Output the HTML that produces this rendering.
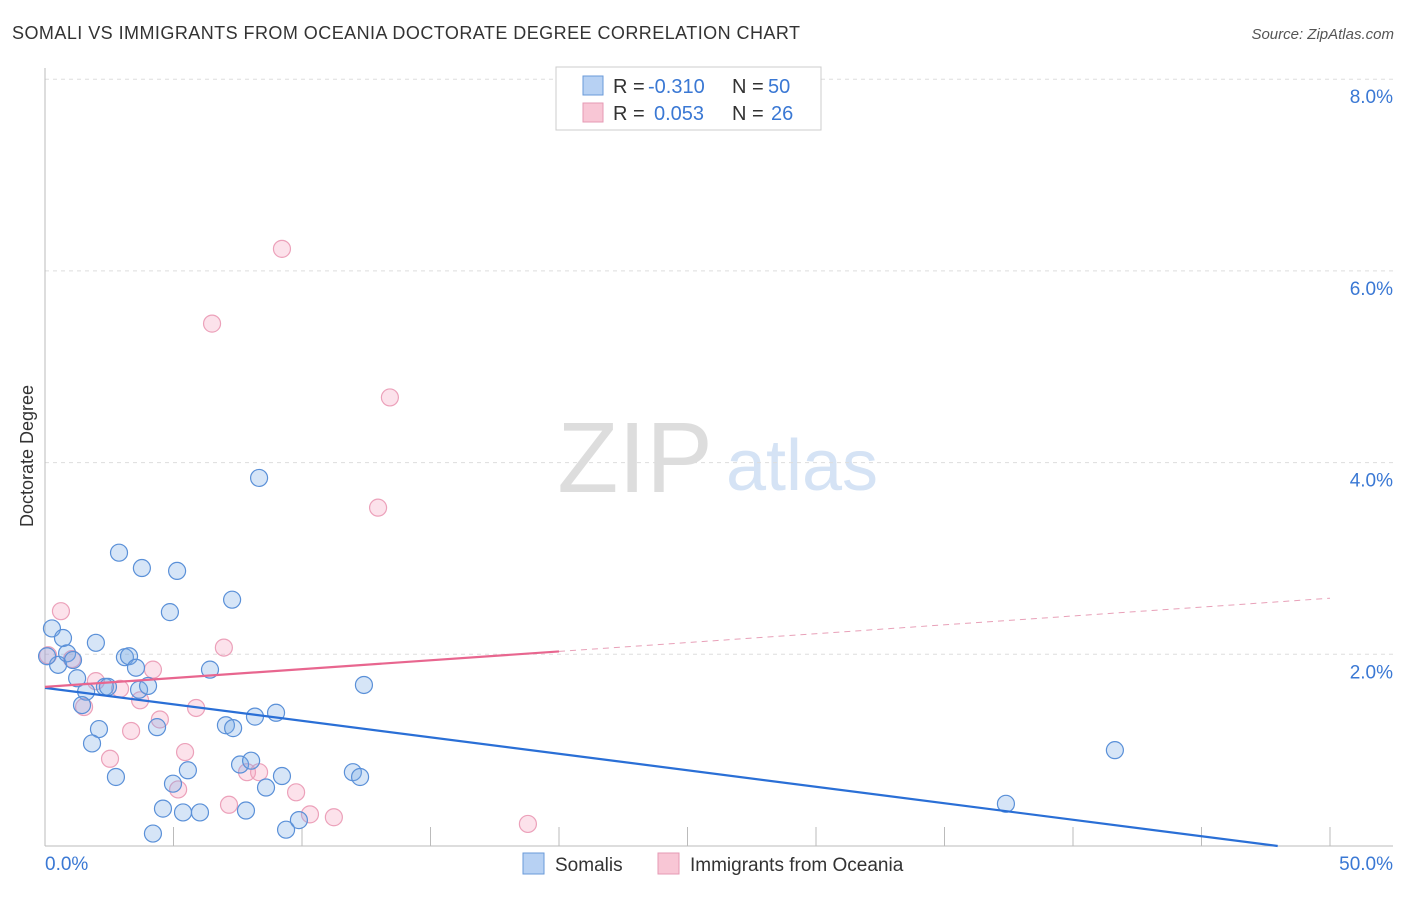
<!DOCTYPE html>
<html><head><meta charset="utf-8"><style>
body{margin:0;background:#fff;font-family:"Liberation Sans",sans-serif}
svg text{font-family:"Liberation Sans",sans-serif}
</style></head><body>
<svg id="chart" width="1406" height="892" viewBox="0 0 1406 892">
<text x="12" y="39" font-size="18" fill="#333" textLength="788">SOMALI VS IMMIGRANTS FROM OCEANIA DOCTORATE DEGREE CORRELATION CHART</text>
<text x="1394" y="39" font-size="15" fill="#555" font-style="italic" text-anchor="end">Source: ZipAtlas.com</text>
<g>
<text x="635" y="492" font-size="100" fill="#ddd" font-family="Liberation Serif" text-anchor="middle">ZIP</text>
<text x="802" y="490" font-size="72" fill="#d5e3f5" text-anchor="middle">atlas</text>
</g>
<g id="grid"></g>
<g id="axes"></g>
<g id="marks"></g>
<text transform="translate(33,456) rotate(-90)" font-size="18" fill="#333" text-anchor="middle">Doctorate Degree</text>
<g>
<rect x="556" y="67" width="265" height="63" fill="#fff" stroke="#ccc"/>
<rect x="583" y="76" width="20" height="19" fill="#b7d1f3" stroke="#6a9ad8"/>
<rect x="583" y="103" width="20" height="19" fill="#f8c6d5" stroke="#e69ab4"/>
<text x="613" y="93" font-size="20" fill="#333">R =</text>
<text x="648" y="93" font-size="20" fill="#3a78d4">-0.310</text>
<text x="732" y="93" font-size="20" fill="#333">N =</text>
<text x="768" y="93" font-size="20" fill="#3a78d4">50</text>
<text x="613" y="120" font-size="20" fill="#333">R =</text>
<text x="654" y="120" font-size="20" fill="#3a78d4">0.053</text>
<text x="732" y="120" font-size="20" fill="#333">N =</text>
<text x="771" y="120" font-size="20" fill="#3a78d4">26</text>
</g>
<g>
<rect x="523" y="853" width="21" height="21" fill="#b7d1f3" stroke="#6a9ad8"/>
<text x="555" y="871" font-size="19" fill="#333">Somalis</text>
<rect x="658" y="853" width="21" height="21" fill="#f8c6d5" stroke="#e69ab4"/>
<text x="690" y="871" font-size="19" fill="#333">Immigrants from Oceania</text>
</g>
</svg>
<script>
const yTicks=[2,4,6,8];
const yTickLabels=["2.0%","4.0%","6.0%","8.0%"];
const xTickLabels=["0.0%","50.0%"];
const somaliX=[0.27,0.70,0.51,0.86,1.09,1.98,1.25,1.60,1.44,2.10,1.83,2.76,2.33,2.45,2.88,3.77,5.14,4.86,3.11,3.27,3.54,3.66,4.01,4.36,4.20,4.59,4.98,5.37,5.56,6.03,6.42,7.04,7.32,7.28,7.59,8.02,7.82,8.17,8.33,8.60,8.99,9.22,9.38,9.88,11.98,12.26,12.41,37.39,41.63,0.08];
const somaliY=[2.27,2.17,1.89,2.01,1.94,2.12,1.75,1.61,1.47,1.22,1.07,0.72,1.66,1.66,3.06,2.90,2.87,2.44,1.97,1.98,1.86,1.63,1.67,1.24,0.13,0.39,0.65,0.35,0.79,0.35,1.84,1.26,1.23,2.57,0.85,0.89,0.37,1.35,3.84,0.61,1.39,0.73,0.17,0.27,0.77,0.72,1.68,0.44,1.00,1.98];
const oceaniaX=[0.12,0.62,1.05,1.98,1.52,2.53,2.92,3.35,3.70,4.20,4.47,5.18,5.45,5.88,6.50,6.96,7.16,7.86,8.33,9.22,9.77,10.31,11.24,12.96,13.42,18.79];
const oceaniaY=[1.99,2.45,1.95,1.72,1.45,0.91,1.64,1.20,1.52,1.84,1.32,0.59,0.98,1.44,5.45,2.07,0.43,0.77,0.77,6.23,0.56,0.33,0.30,3.53,4.68,0.23];
const somaliTrend=[1.65,-0.0344];
const oceaniaTrend=[1.66,0.0185];
const NS="http://www.w3.org/2000/svg";
const X=v=>45+v*1285/50, Y=v=>846-v*95.85;
function mk(tag,attrs,parent){const e=document.createElementNS(NS,tag);for(const k in attrs)e.setAttribute(k,attrs[k]);parent.appendChild(e);return e;}
const grid=document.getElementById('grid'),axes=document.getElementById('axes'),marks=document.getElementById('marks');
yTicks.forEach((t,i)=>{
 const l=mk('line',{x1:45,x2:1393,y1:Y(t),y2:Y(t),stroke:'#ddd','stroke-dasharray':'4,4'},grid);
 
 
 const tx=mk('text',{x:1393,y:Y(t)+24,'font-size':19,fill:'#3a78d4','text-anchor':'end'},axes);
 tx.textContent=yTickLabels[i];
 
 
});
mk('line',{x1:45,x2:45,y1:68,y2:846,stroke:'#bbb'},axes);
mk('line',{x1:45,x2:1393,y1:846,y2:846,stroke:'#bbb'},axes);
for(let v=5;v<=50;v+=5){const t=mk('line',{x1:X(v),x2:X(v),y1:827,y2:846,stroke:'#bbb'},axes);
 
 }
const xl0=mk('text',{x:45,y:870,'font-size':19,fill:'#3a78d4'},axes);xl0.textContent=xTickLabels[0];

const xl1=mk('text',{x:1393,y:870,'font-size':19,fill:'#3a78d4','text-anchor':'end'},axes);xl1.textContent=xTickLabels[1];

oceaniaX.forEach((x,i)=>{const c=mk('circle',{cx:X(x),cy:Y(oceaniaY[i]),r:8.5,fill:'rgba(244,160,188,0.3)',stroke:'#eca1ba','stroke-width':1.2},marks);
 
 });
somaliX.forEach((x,i)=>{const c=mk('circle',{cx:X(x),cy:Y(somaliY[i]),r:8.5,fill:'rgba(120,170,230,0.3)',stroke:'#5a90d8','stroke-width':1.2},marks);
 
 });
const bx1=-somaliTrend[0]/somaliTrend[1];
const bl=mk('line',{x1:X(0),y1:Y(somaliTrend[0]),x2:X(bx1),y2:Y(0),stroke:'#2a6fd6','stroke-width':2.2},marks);

const pl=mk('line',{x1:X(0),y1:Y(oceaniaTrend[0]),x2:X(20),y2:Y(oceaniaTrend[0]+20*oceaniaTrend[1]),stroke:'#e8668f','stroke-width':2.2},marks);

const pd=mk('line',{x1:X(20),y1:Y(oceaniaTrend[0]+20*oceaniaTrend[1]),x2:X(50),y2:Y(oceaniaTrend[0]+50*oceaniaTrend[1]),stroke:'#e8a0b8','stroke-width':1,'stroke-dasharray':'6,5'},marks);

</script>
</body></html>
